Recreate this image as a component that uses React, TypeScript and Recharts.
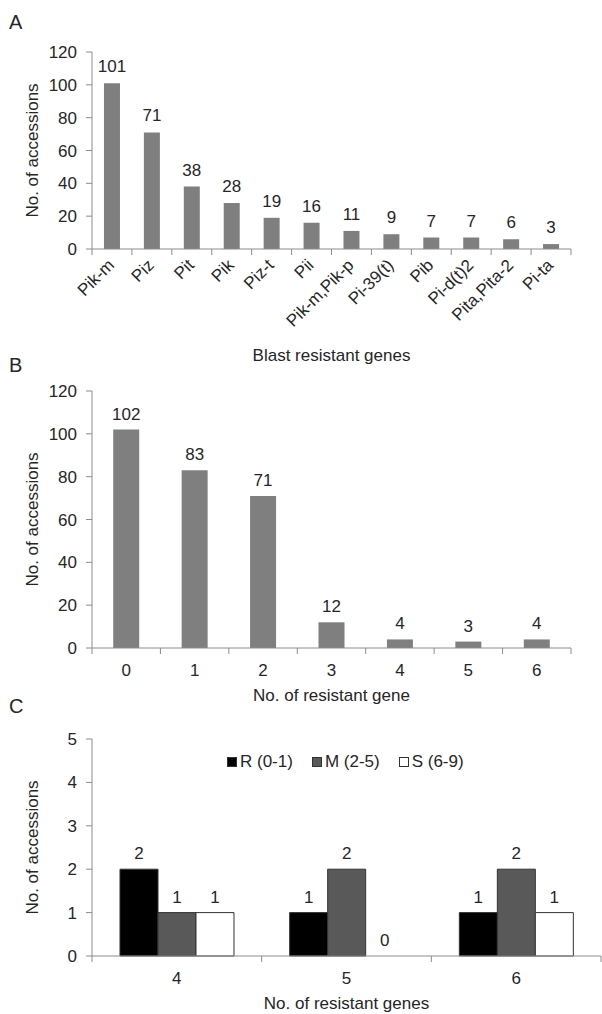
import React from "react";
import { BarChart, Bar, XAxis, YAxis, LabelList, Label, Legend, Rectangle } from "recharts";

const FONT = "'Liberation Sans', Arial, sans-serif";
const AXIS = "#8c8c8c";
const TEXT = "#262626";
const BAR_GRAY = "#7f7f7f";

// panel A: blast resistant genes
const geneNames = ["Pik-m", "Piz", "Pit", "Pik", "Piz-t", "Pii", "Pik-m,Pik-p", "Pi-39(t)", "Pib", "Pi-d(t)2", "Pita,Pita-2", "Pi-ta"];
const geneCounts = [101, 71, 38, 28, 19, 16, 11, 9, 7, 7, 6, 3];

// panel B: number of resistant genes per accession
const geneNumbers = ["0", "1", "2", "3", "4", "5", "6"];
const accessionCounts = [102, 83, 71, 12, 4, 3, 4];

// panel C: reaction groups
const groupNumbers = ["4", "5", "6"];
const resistantR = [2, 1, 1];
const moderateM = [1, 2, 2];
const susceptibleS = [1, 0, 1];
const seriesNames = ["R (0-1)", "M (2-5)", "S (6-9)"];
const seriesColors = ["#000000", "#595959", "#ffffff"];

const yTicksAB = [0, 20, 40, 60, 80, 100, 120];
const yTicksC = [0, 1, 2, 3, 4, 5];

const dataA = geneNames.map((name, i) => ({ name, value: geneCounts[i] }));
const dataB = geneNumbers.map((name, i) => ({ name, value: accessionCounts[i] }));
const dataC = groupNumbers.map((name, i) => ({
  name,
  r: resistantR[i],
  m: moderateM[i],
  s: susceptibleS[i],
}));

// x ticks: marks sit on the band edges, not the centres
const BandTick = (props: any) => {
  const { x, y, payload, index, band, count, rotated } = props;
  const left = x - band / 2;
  const right = x + band / 2;
  return (
    <g>
      <line x1={left} x2={left} y1={y} y2={y + 6} stroke={AXIS} />
      {index === count - 1 && <line x1={right} x2={right} y1={y} y2={y + 6} stroke={AXIS} />}
      {rotated ? (
        <text
          x={x - 1}
          y={y + 13}
          dy="0.35em"
          textAnchor="end"
          transform={`rotate(-45 ${x - 1} ${y + 13})`}
          fill={TEXT}
          fontSize={17}
          fontFamily={FONT}
        >
          {payload.value}
        </text>
      ) : (
        <text x={x} y={y + 28} textAnchor="middle" fill={TEXT} fontSize={17} fontFamily={FONT}>
          {payload.value}
        </text>
      )}
    </g>
  );
};

const yTitle = ({ viewBox }: any) => {
  const cx = viewBox.x + 32;
  const cy = viewBox.y + viewBox.height / 2;
  return (
    <text
      x={cx}
      y={cy}
      transform={`rotate(-90 ${cx} ${cy})`}
      textAnchor="middle"
      dominantBaseline="central"
      fill={TEXT}
      fontSize={17}
      fontFamily={FONT}
    >
      No. of accessions
    </text>
  );
};

// value above bar
const valueLabel = (offset: number) => (props: any) => {
  const { x, y, width, height, value } = props;
  const top = Math.min(y, y + height);
  return (
    <text x={x + width / 2} y={top - offset} textAnchor="middle" fill={TEXT} fontSize={17} fontFamily={FONT}>
      {value}
    </text>
  );
};

// panel C bars: rectangle plus its value, so a 0 still gets its label
const barWithValue = (props: any) => {
  const { x, y, width, height, fill, stroke, value } = props;
  const v = Array.isArray(value) ? value[1] - value[0] : value;
  return (
    <g>
      {height > 0 && <Rectangle x={x} y={y} width={width} height={height} fill={fill} stroke={stroke} strokeWidth={1} />}
      <text x={x + width / 2} y={y - 10} textAnchor="middle" fill={TEXT} fontSize={17} fontFamily={FONT}>
        {v}
      </text>
    </g>
  );
};

const PanelLetter = ({ letter, top }: { letter: string; top: number }) => (
  <svg width={30} height={30} style={{ position: "absolute", left: 0, top }}>
    <text x={9} y={22} fill={TEXT} fontSize={20} fontFamily={FONT}>
      {letter}
    </text>
  </svg>
);

const renderLegend = () => (
  <div style={{ display: "flex", fontFamily: FONT, fontSize: 17, color: TEXT, lineHeight: "20px" }}>
    {seriesNames.map((name, i) => (
      <div key={name} style={{ display: "flex", alignItems: "center", marginRight: 19 }}>
        <span
          style={{
            display: "inline-block",
            width: 8,
            height: 8,
            background: seriesColors[i],
            border: "1px solid #333",
            marginRight: 3,
          }}
        />
        {name}
      </div>
    ))}
  </div>
);

const tickStyle = { fill: TEXT, fontSize: 17, fontFamily: FONT };
const labelStyle = { fill: TEXT, fontSize: 17, fontFamily: FONT };

export default function App() {
  return (
    <div style={{ position: "absolute", left: 0, top: 0, width: 602, height: 1014, background: "#fff" }}>
      <PanelLetter letter="A" top={7} />
      <div style={{ position: "absolute", left: 0, top: 0 }}>
        <BarChart width={602} height={370} data={dataA} margin={{ top: 52, right: 31, bottom: 0, left: 0 }} barCategoryGap="30%">
          <YAxis
            width={92}
            domain={[0, 120]}
            ticks={yTicksAB}
            interval={0}
            tickSize={6}
            tickMargin={9}
            stroke={AXIS}
            tick={tickStyle}
            label={{ content: yTitle }}
          />
          <XAxis
            dataKey="name"
            interval={0}
            height={121}
            tickSize={0}
            tickMargin={0}
            tickLine={false}
            stroke={AXIS}
            tick={<BandTick band={479 / 12} count={geneNames.length} rotated />}
          >
            <Label value="Blast resistant genes" position="insideBottom" offset={9} style={labelStyle} />
          </XAxis>
          <Bar dataKey="value" fill={BAR_GRAY} isAnimationActive={false}>
            <LabelList dataKey="value" content={valueLabel(11)} />
          </Bar>
        </BarChart>
      </div>

      <PanelLetter letter="B" top={350} />
      <div style={{ position: "absolute", left: 0, top: 370 }}>
        <BarChart width={602} height={340} data={dataB} margin={{ top: 21, right: 31, bottom: 0, left: 0 }} barCategoryGap="31%">
          <YAxis
            width={92}
            domain={[0, 120]}
            ticks={yTicksAB}
            interval={0}
            tickSize={6}
            tickMargin={9}
            stroke={AXIS}
            tick={tickStyle}
            label={{ content: yTitle }}
          />
          <XAxis
            dataKey="name"
            interval={0}
            height={62}
            tickSize={0}
            tickMargin={0}
            tickLine={false}
            stroke={AXIS}
            tick={<BandTick band={479 / 7} count={geneNumbers.length} />}
          >
            <Label value="No. of resistant gene" position="insideBottom" offset={9} style={labelStyle} />
          </XAxis>
          <Bar dataKey="value" fill={BAR_GRAY} isAnimationActive={false}>
            <LabelList dataKey="value" content={valueLabel(10)} />
          </Bar>
        </BarChart>
      </div>

      <PanelLetter letter="C" top={691} />
      <div style={{ position: "absolute", left: 0, top: 710 }}>
        <BarChart
          width={602}
          height={304}
          data={dataC}
          margin={{ top: 29, right: 1, bottom: 0, left: 0 }}
          barCategoryGap="16.5%"
          barGap={0}
        >
          <YAxis
            width={92}
            domain={[0, 5]}
            ticks={yTicksC}
            interval={0}
            tickSize={6}
            tickMargin={9}
            stroke={AXIS}
            tick={tickStyle}
            label={{ content: yTitle }}
          />
          <XAxis
            dataKey="name"
            interval={0}
            height={58}
            tickSize={0}
            tickMargin={0}
            tickLine={false}
            stroke={AXIS}
            tick={<BandTick band={509 / 3} count={groupNumbers.length} />}
          >
            <Label value="No. of resistant genes" position="insideBottom" offset={5} style={labelStyle} />
          </XAxis>
          <Legend
            layout="horizontal"
            verticalAlign="middle"
            align="center"
            content={renderLegend}
            wrapperStyle={{ top: 42, left: 227, width: "auto" }}
          />
          {["r", "m", "s"].map((key, i) => (
            <Bar
              key={key}
              dataKey={key}
              name={seriesNames[i]}
              fill={seriesColors[i]}
              stroke="#333333"
              strokeWidth={1}
              shape={barWithValue}
              isAnimationActive={false}
            />
          ))}
        </BarChart>
      </div>
    </div>
  );
}
